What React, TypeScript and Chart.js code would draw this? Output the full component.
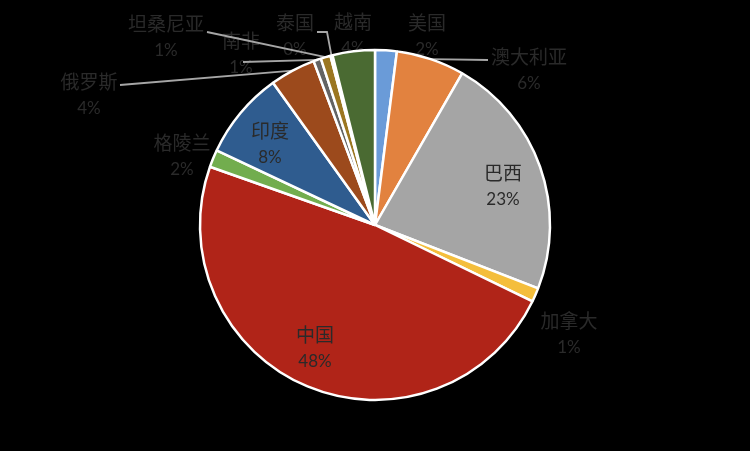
import React, { useEffect, useRef } from 'react';
import Chart from 'chart.js/auto';

const countries = ['美国', '澳大利亚', '巴西', '加拿大', '中国', '格陵兰', '印度', '俄罗斯', '南非', '坦桑尼亚', '泰国', '越南'];
const shares = [2.0, 6.3, 22.6, 1.3, 48.2, 1.6, 8.1, 4.2, 0.7, 0.9, 0.2, 3.9];
const sliceColors = ['#6A9BD8', '#E2823F', '#A5A5A5', '#F4BE3C', '#B02418', '#72AD4E', '#2F5C8F', '#9C4A1C', '#636363', '#9B7620', '#264478', '#4A6A32'];

// label block centres (text placement) and optional leader-line start points
type LabelSpec = { x: number; y: number; inside?: boolean; leader?: number[][] };
const labelLayout: LabelSpec[] = [
  { x: 427, y: 36 },
  { x: 529, y: 70, leader: [[488, 60]] },
  { x: 503, y: 186, inside: true },
  { x: 569, y: 334 },
  { x: 315, y: 348, inside: true },
  { x: 182, y: 156 },
  { x: 270, y: 144, inside: true },
  { x: 89, y: 95, leader: [[120, 85]] },
  { x: 241, y: 54, leader: [[243, 62]] },
  { x: 166, y: 37, leader: [[207, 32]] },
  { x: 295, y: 36, leader: [[317, 32], [327, 32]] },
  { x: 353, y: 35 },
];

const TEXT_COLOR = '#2a2a2a';
const LEADER_COLOR = '#A6A6A6';

function pctText(i: number) {
  const total = shares.reduce((a, b) => a + b, 0);
  return Math.round((shares[i] / total) * 100) + '%';
}

function drawLabel(ctx: CanvasRenderingContext2D, i: number, x: number, y: number) {
  ctx.save();
  ctx.fillStyle = TEXT_COLOR;
  ctx.textAlign = 'center';
  ctx.textBaseline = 'middle';
  ctx.font = '19px "Noto Sans CJK SC", sans-serif';
  ctx.fillText(countries[i], x, y - 13);
  ctx.font = '17px Lato, "Noto Sans CJK SC", sans-serif';
  ctx.fillText(pctText(i), x, y + 14);
  ctx.restore();
}

function edgePoint(arc: any) {
  const mid = (arc.startAngle + arc.endAngle) / 2;
  return [arc.x + Math.cos(mid) * arc.outerRadius, arc.y + Math.sin(mid) * arc.outerRadius];
}

const outsideLabels = {
  id: 'outsideLabels',
  beforeDatasetsDraw(chart: any) {
    const ctx = chart.ctx as CanvasRenderingContext2D;
    const meta = chart.getDatasetMeta(0);
    labelLayout.forEach((spec, i) => {
      if (spec.inside) return;
      drawLabel(ctx, i, spec.x, spec.y);
    });
    labelLayout.forEach((spec, i) => {
      if (!spec.leader) return;
      const arc = meta.data[i];
      const [ex, ey] = edgePoint(arc);
      ctx.save();
      ctx.strokeStyle = LEADER_COLOR;
      ctx.lineWidth = 1.8;
      ctx.beginPath();
      spec.leader.forEach((p, k) => (k === 0 ? ctx.moveTo(p[0], p[1]) : ctx.lineTo(p[0], p[1])));
      ctx.lineTo(ex, ey);
      ctx.stroke();
      ctx.restore();
    });
  },
};

const insideLabels = {
  id: 'insideLabels',
  afterDatasetsDraw(chart: any) {
    const ctx = chart.ctx as CanvasRenderingContext2D;
    labelLayout.forEach((spec, i) => {
      if (!spec.inside) return;
      drawLabel(ctx, i, spec.x, spec.y);
    });
  },
};

export default function App() {
  const canvasRef = useRef<HTMLCanvasElement | null>(null);

  useEffect(() => {
    const canvas = canvasRef.current;
    if (!canvas) return;
    const chart = new Chart(canvas, {
      type: 'pie',
      data: {
        labels: countries,
        datasets: [
          {
            data: shares,
            backgroundColor: sliceColors,
            borderColor: '#FFFFFF',
            borderWidth: 2.5,
          },
        ],
      },
      options: {
        responsive: false,
        animation: false,
        radius: 175,
        layout: { padding: { top: 49, bottom: 50, left: 0, right: 0 } },
        plugins: {
          legend: { display: false },
          tooltip: { enabled: false },
        },
      } as any,
      plugins: [outsideLabels, insideLabels],
    });
    return () => chart.destroy();
  }, []);

  return (
    <div style={{ position: 'fixed', left: 0, top: 0, width: 750, height: 451, background: '#000000' }}>
      <canvas ref={canvasRef} width={750} height={451} style={{ display: 'block' }} />
    </div>
  );
}
